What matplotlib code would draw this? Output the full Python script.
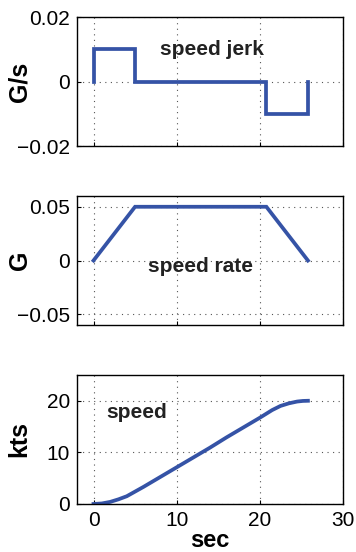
import matplotlib.pyplot as plt

plt.rcParams['font.family'] = ['Liberation Sans', 'DejaVu Sans']

# jerk profile (G/s)
jerk_t = [0, 0, 5, 5, 20.8, 20.8, 25.8, 25.8]
jerk_v = [0, 0.01, 0.01, 0, 0, -0.01, -0.01, 0]

# speed rate (G)
rate_t = [0, 5, 20.8, 25.8]
rate_v = [0, 0.05, 0.05, 0]

# speed (kts)
speed_t = [0, 1, 2, 3, 4, 5, 6, 8, 10, 12, 14, 16, 18, 20, 20.8, 21.5, 22.5, 23.5, 24.5, 25.2, 25.8]
speed_v = [0, 0.1, 0.4, 0.9, 1.5, 2.4, 3.3, 5.2, 7.1, 9.0, 10.9, 12.9, 14.8, 16.7, 17.5, 18.2, 19.0, 19.5, 19.85, 19.97, 20.0]

xticks = [0, 10, 20, 30]
blue = '#3553a6'

fig = plt.figure(figsize=(3.56, 5.52), dpi=100)
ax1 = fig.add_axes([0.216, 0.7355, 0.747, 0.2337])
ax2 = fig.add_axes([0.216, 0.4112, 0.747, 0.2337])
ax3 = fig.add_axes([0.216, 0.087, 0.747, 0.2337])

panels = [
    (ax1, jerk_t, jerk_v, (-0.02, 0.02), [-0.02, 0, 0.02], ['\u22120.02', '0', '0.02'], 'G/s'),
    (ax2, rate_t, rate_v, (-0.06, 0.06), [-0.05, 0, 0.05], ['\u22120.05', '0', '0.05'], 'G'),
    (ax3, speed_t, speed_v, (0, 25), [0, 10, 20], ['0', '10', '20'], 'kts'),
]

for ax, t, v, ylim, yt, ytl, lab in panels:
    ax.plot(t, v, color=blue, lw=2.7, solid_joinstyle='miter')
    ax.set_xlim(-2, 30)
    ax.set_ylim(*ylim)
    ax.set_xticks(xticks)
    ax.set_yticks(yt)
    ax.set_yticklabels(ytl)
    ax.grid(True, linestyle=(0, (1, 4)), color='#555555', lw=0.8)
    ax.tick_params(direction='in', length=3, labelsize=15, width=0.8, pad=5)
    ax.set_ylabel(lab, fontsize=18, fontweight='bold')
    ax.yaxis.set_label_coords(-0.17, 0.5)
    for s in ax.spines.values():
        s.set_linewidth(1.0)

ax1.set_xticklabels([])
ax2.set_xticklabels([])
ax3.set_xlabel('sec', fontsize=17, fontweight='bold', labelpad=-1)

ax1.text(8, 0.01, 'speed jerk', fontsize=15, fontweight='bold', va='center', color='#222222')
ax2.text(6.5, -0.0055, 'speed rate', fontsize=15, fontweight='bold', va='center', color='#222222')
ax3.text(1.5, 17.7, 'speed', fontsize=15, fontweight='bold', va='center', color='#222222')

fig.savefig('out.png', dpi=100)
